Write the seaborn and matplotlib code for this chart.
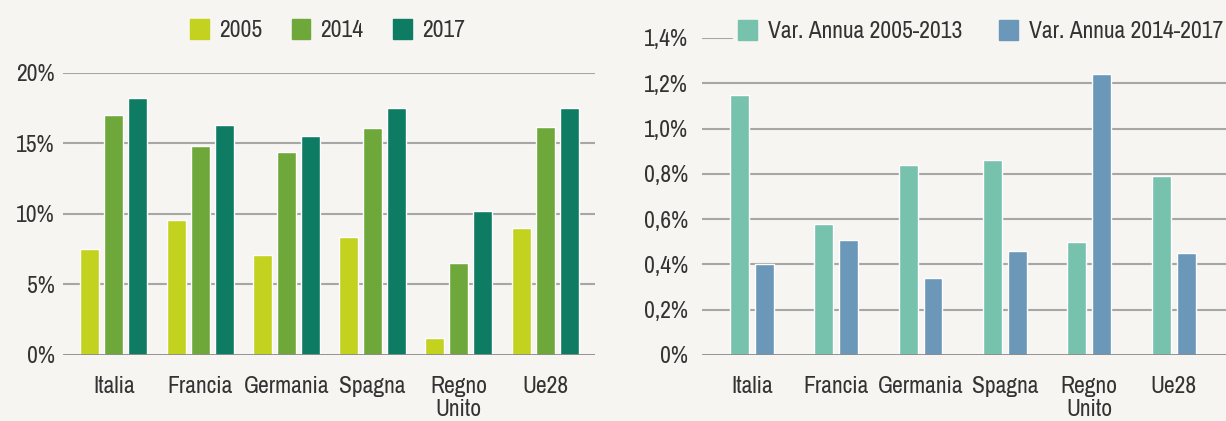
import pandas as pd
import numpy as np
import seaborn as sns
import matplotlib.pyplot as plt
from matplotlib.patches import Patch

# Dati
paesi = ['Italia', 'Francia', 'Germania', 'Spagna', 'Regno\nUnito', 'Ue28']
anni = ['2005', '2014', '2017']
quota_2005 = [7.5, 9.6, 7.1, 8.4, 1.2, 9.0]
quota_2014 = [17.0, 14.8, 14.4, 16.1, 6.5, 16.2]
quota_2017 = [18.2, 16.3, 15.5, 17.5, 10.2, 17.5]

periodi = ['Var. Annua 2005-2013', 'Var. Annua 2014-2017']
var_2005_2013 = [1.15, 0.58, 0.84, 0.86, 0.50, 0.79]
var_2014_2017 = [0.40, 0.51, 0.34, 0.46, 1.24, 0.45]

col_sx = ['#c3d21f', '#6fa83a', '#0e7b63']
col_dx = ['#77c2ad', '#6b97b8']
sfondo = '#f6f5f2'

sns.set_theme(style='white')
plt.rcParams['font.family'] = ['Archivo Narrow', 'DejaVu Sans']
plt.rcParams['font.stretch'] = 'condensed'
plt.rcParams['text.color'] = '#333333'

df_sx = pd.DataFrame({'paese': paesi * 3,
                      'anno': np.repeat(anni, len(paesi)),
                      'valore': quota_2005 + quota_2014 + quota_2017})
df_dx = pd.DataFrame({'paese': paesi * 2,
                      'periodo': np.repeat(periodi, len(paesi)),
                      'valore': var_2005_2013 + var_2014_2017})

fig = plt.figure(figsize=(12.26, 4.21), dpi=100, facecolor=sfondo)
ax1 = fig.add_axes([0.0514, 0.1568, 0.434, 0.670])
ax2 = fig.add_axes([0.5726, 0.1568, 0.4274, 0.753])

fs = 17


def stile(ax, yticks, labels, ypad):
    ax.set_facecolor(sfondo)
    for s in ax.spines.values():
        s.set_visible(False)
    ax.set_yticks(yticks)
    ax.set_yticklabels(labels, fontsize=fs, color='#333333')
    ax.tick_params(axis='x', length=0, pad=15, labelsize=fs, labelcolor='#333333')
    ax.tick_params(axis='y', length=0, pad=ypad)
    for t in ax.get_xticklabels():
        t.set_linespacing(1.1)
    for t in yticks[1:]:
        ax.axhline(t, color='#a6a6a6', lw=1.5, zorder=0)
    ax.axhline(0, color='#8a8a8a', lw=2, zorder=3)
    ax.set_xlabel('')
    ax.set_ylabel('')


# Grafico di sinistra: quote per anno
sns.barplot(data=df_sx, x='paese', y='valore', hue='anno', palette=col_sx,
            width=0.835, gap=0.21, ax=ax1, legend=False, saturation=1, zorder=2)
ax1.set_xlim(-0.59, 5.58)
ax1.set_ylim(0, 20)
stile(ax1, [0, 5, 10, 15, 20], ['0%', '5%', '10%', '15%', '20%'], 6)
ax1.legend(handles=[Patch(color=c, label=a) for c, a in zip(col_sx, anni)],
           loc='center', bbox_to_anchor=(0.497, 1.152), ncol=3, frameon=False,
           fontsize=fs, handlelength=0.8, handleheight=0.95,
           columnspacing=1.25, handletextpad=0.42)

# Grafico di destra: variazioni annue
sns.barplot(data=df_dx, x='paese', y='valore', hue='periodo', palette=col_dx,
            width=0.59, gap=0.24, ax=ax2, legend=False, saturation=1, zorder=2)
ax2.set_xlim(-0.59, 5.62)
ax2.set_ylim(0, 1.4)
yt = [0, 0.2, 0.4, 0.6, 0.8, 1.0, 1.2, 1.4]
stile(ax2, yt, ['0%', '0,2%', '0,4%', '0,6%', '0,8%', '1,0%', '1,2%', '1,4%'], 10)
leg2 = ax2.legend(handles=[Patch(color=c, label=p) for c, p in zip(col_dx, periodi)],
                  loc='center left', bbox_to_anchor=(0.059, 1.022), ncol=2, frameon=True,
                  facecolor=sfondo, edgecolor=sfondo, framealpha=1, fancybox=False,
                  fontsize=fs, handlelength=0.8, handleheight=0.95,
                  columnspacing=1.57, handletextpad=0.47, borderpad=0.2,
                  borderaxespad=0)
leg2.set_zorder(5)

fig.savefig('out.png', dpi=100, facecolor=sfondo)
